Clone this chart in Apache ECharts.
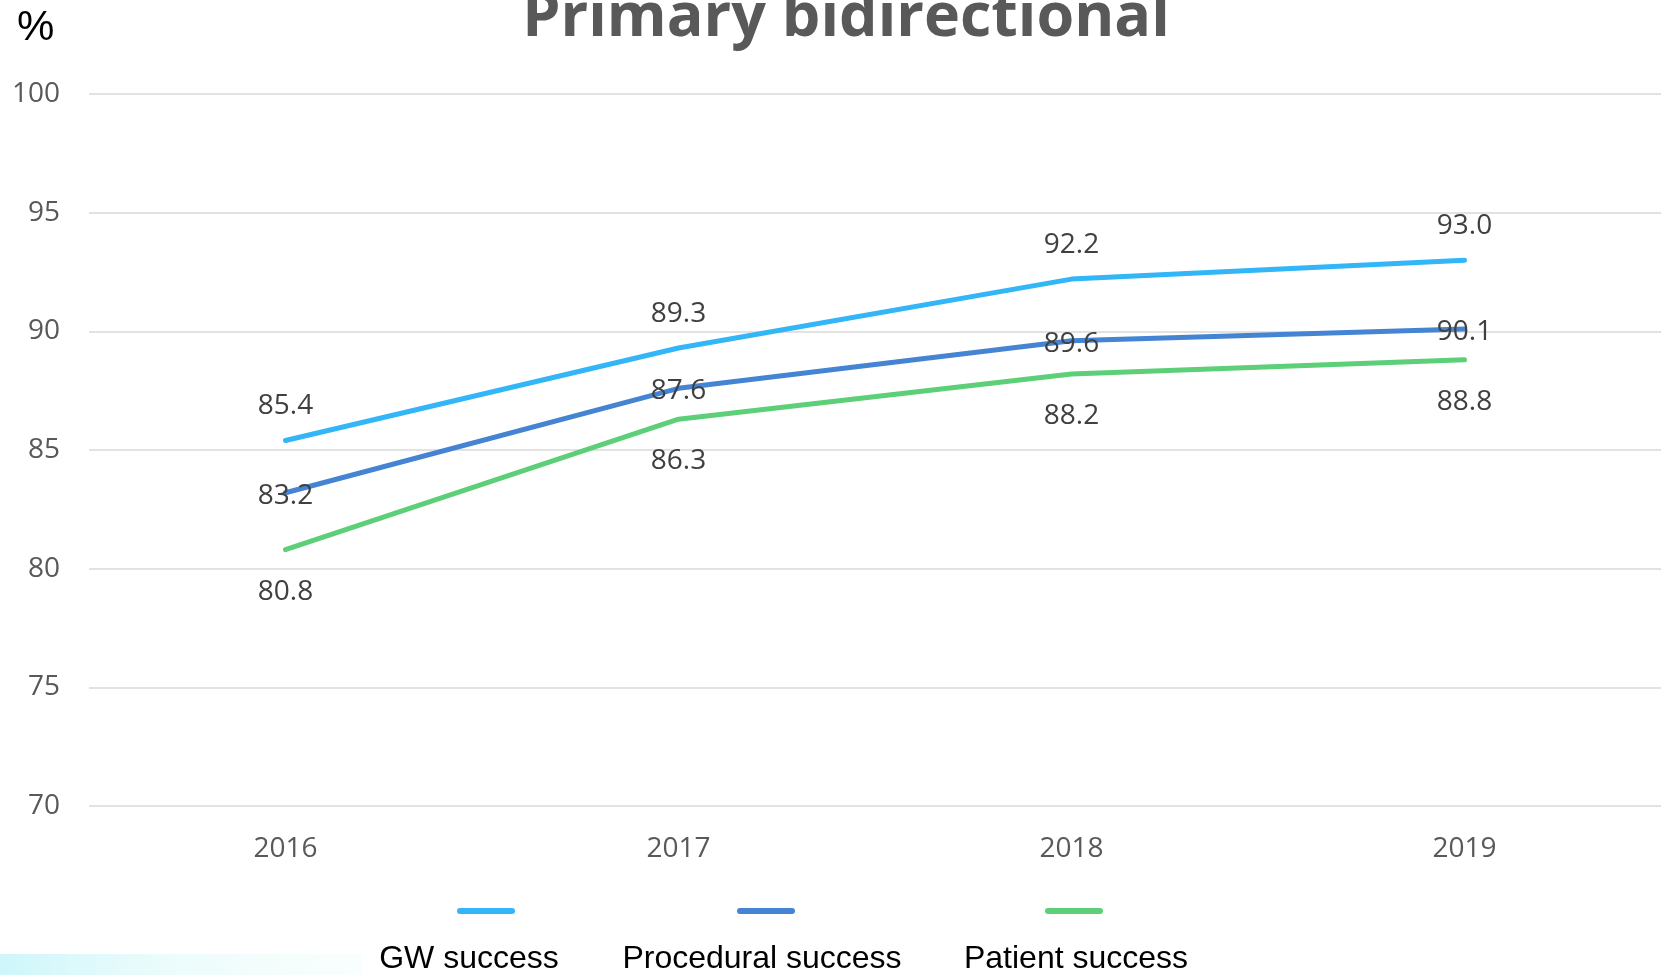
<!DOCTYPE html>
<html>
<head>
<meta charset="utf-8">
<style>
  html, body { margin: 0; padding: 0; background: #fff; }
  #chart { width: 1667px; height: 975px; }
</style>
<script src="https://cdn.jsdelivr.net/npm/echarts@6/dist/echarts.min.js"></script>
</head>
<body>
<div id="chart"></div>
<script>
// 数据
const years = ["2016", "2017", "2018", "2019"];
const gwSuccess = [85.4, 89.3, 92.2, 93.0];
const proceduralSuccess = [83.2, 87.6, 89.6, 90.1];
const patientSuccess = [80.8, 86.3, 88.2, 88.8];
const seriesNames = ["GW success", "Procedural success", "Patient success"];
const seriesColors = ["#33b6f7", "#4584d2", "#5ccf78"];

const myChart = echarts.init(document.getElementById("chart"));

function lineSeries(name, data, color, labelPos, dist, offsetY) {
  return {
    name: name,
    type: "line",
    data: data,
    showSymbol: true,
    symbol: "circle",
    symbolSize: 0,
    itemStyle: { color: "rgba(0,0,0,0)" },
    lineStyle: { color: color, width: 5, cap: "round", join: "round" },
    label: {
      show: true,
      position: labelPos,
      distance: dist,
      offset: [0, offsetY],
      fontFamily: "Open Sans",
      fontSize: 28,
      color: "#404040",
      formatter: p => p.value.toFixed(1)
    },
    emphasis: { disabled: true },
    z: 3
  };
}

// legend: icon on top, text below (built as graphic)
const legendIconX = [486, 766, 1074];
const legendTextX = [469, 762, 1076];
const legendGraphics = [];
seriesNames.forEach((n, i) => {
  legendGraphics.push({
    type: "line",
    shape: { x1: legendIconX[i] - 26, y1: 911, x2: legendIconX[i] + 26, y2: 911 },
    style: { stroke: seriesColors[i], lineWidth: 6, lineCap: "round" }
  });
  legendGraphics.push({
    type: "text",
    x: legendTextX[i],
    y: 959,
    style: {
      text: n,
      fill: "#000",
      font: '32px "Liberation Sans", Arial, sans-serif',
      textAlign: "center",
      textVerticalAlign: "middle"
    }
  });
});

const option = {
  animation: false,
  backgroundColor: "#fff",
  title: {
    text: "Primary bidirectional",
    left: 841,
    textAlign: "center",
    top: -17,
    textStyle: {
      fontFamily: "Open Sans",
      fontWeight: "bold",
      fontSize: 61,
      color: "#595959"
    }
  },
  grid: { left: 89, right: 6, top: 94, bottom: 169, containLabel: false },
  xAxis: {
    type: "category",
    data: years,
    boundaryGap: true,
    axisLine: { show: false },
    axisTick: { show: false },
    axisLabel: { color: "#595959", fontSize: 28, fontFamily: "Open Sans", margin: 29 }
  },
  yAxis: {
    type: "value",
    min: 70,
    max: 100,
    interval: 5,
    axisLine: { show: false },
    axisTick: { show: false },
    axisLabel: { color: "#595959", fontSize: 28, fontFamily: "Open Sans", margin: 29 },
    splitLine: { lineStyle: { color: "#d9d9d9", width: 1.5 } }
  },
  graphic: [
    {
      type: "text",
      left: 17,
      top: 7,
      style: { text: "%", fill: "#000", font: '42px "Liberation Sans", Arial, sans-serif' }
    },
    {
      type: "rect",
      shape: { x: 0, y: 954, width: 362, height: 21 },
      style: {
        fill: new echarts.graphic.LinearGradient(0, 0, 1, 0, [
          { offset: 0, color: "rgba(200,245,250,0.9)" },
          { offset: 0.5, color: "rgba(225,250,250,0.6)" },
          { offset: 1, color: "rgba(235,252,250,0.3)" }
        ])
      },
      silent: true
    }
  ].concat(legendGraphics),
  series: [
    lineSeries(seriesNames[0], gwSuccess, seriesColors[0], "top", 20, 0),
    lineSeries(seriesNames[1], proceduralSuccess, seriesColors[1], "inside", 0, 3),
    lineSeries(seriesNames[2], patientSuccess, seriesColors[2], "bottom", 28, 0)
  ]
};
myChart.setOption(option);
</script>
</body>
</html>
